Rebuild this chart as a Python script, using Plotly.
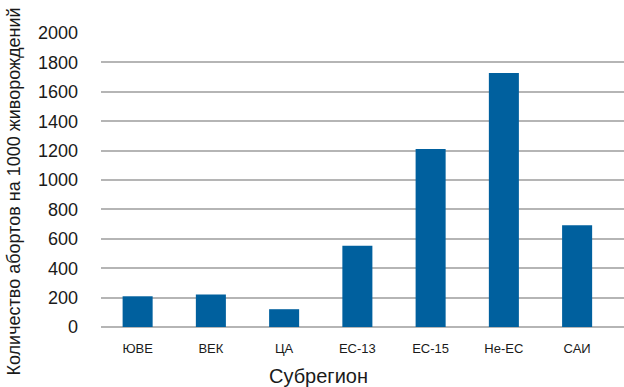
import plotly.graph_objects as go

# Abortions per 1000 live births by subregion
subregions = ["ЮВЕ", "ВЕК", "ЦА", "ЕС-13", "ЕС-15", "Не-ЕС", "САИ"]
abortions_per_1000 = [209, 221, 121, 552, 1211, 1728, 693]
y_ticks = [0, 200, 400, 600, 800, 1000, 1200, 1400, 1600, 1800, 2000]

W, H = 624, 387
left, right, top, bottom = 101, 0, 33, 60
plot_w = W - left - right
plot_h = H - top - bottom

font_family = "Liberation Sans, Arial, sans-serif"
text_color = "#1a1a1a"

fig = go.Figure(
    go.Bar(
        x=list(range(len(subregions))),
        y=abortions_per_1000,
        marker=dict(color="#00609e", line=dict(width=0)),
        hoverinfo="skip",
    )
)

fig.update_layout(
    width=W,
    height=H,
    margin=dict(l=left, r=right, t=top, b=bottom, pad=0),
    paper_bgcolor="white",
    plot_bgcolor="white",
    bargap=0.59,
    showlegend=False,
    font=dict(family=font_family, color=text_color),
    xaxis=dict(
        tickmode="array",
        tickvals=list(range(len(subregions))),
        ticktext=subregions,
        range=[-0.5, 6.64],
        showgrid=False,
        showline=False,
        zeroline=False,
        ticks="",
        tickfont=dict(size=13, family=font_family, color=text_color),
        ticklabelstandoff=12,
    ),
    yaxis=dict(
        range=[0, 2000],
        tickmode="array",
        tickvals=y_ticks,
        showgrid=True,
        gridcolor="#b5b5b5",
        gridwidth=1.5,
        zeroline=True,
        zerolinecolor="#b5b5b5",
        zerolinewidth=1.5,
        showline=False,
        ticks="",
        tickfont=dict(size=18, family=font_family, color=text_color),
        ticklabelstandoff=22,
    ),
    annotations=[
        dict(
            text="Количество абортов на 1000 живорождений",
            xref="paper", yref="paper",
            x=(13 - left) / plot_w, y=(H - bottom - 191.5) / plot_h,
            xanchor="center", yanchor="middle",
            textangle=-90, showarrow=False,
            font=dict(size=18, family=font_family, color=text_color),
        ),
        dict(
            text="Субрегион",
            xref="paper", yref="paper",
            x=(318 - left) / plot_w, y=-(376 - (H - bottom)) / plot_h,
            xanchor="center", yanchor="middle",
            showarrow=False,
            font=dict(size=20, family=font_family, color=text_color),
        ),
    ],
)

fig.write_html("out.html")
